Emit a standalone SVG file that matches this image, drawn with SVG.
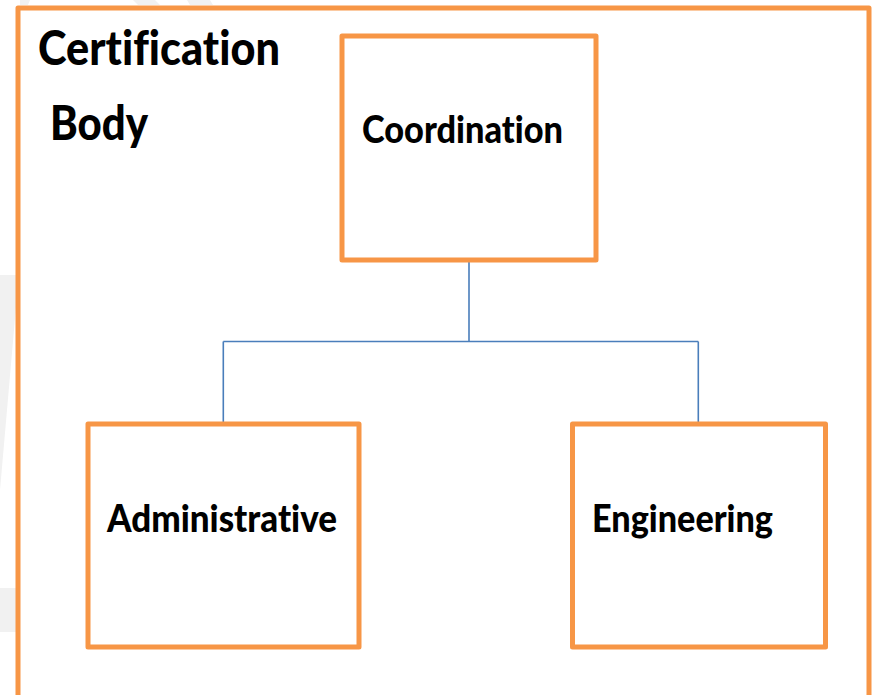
<svg xmlns="http://www.w3.org/2000/svg" width="872" height="695" viewBox="0 0 872 695">
<style>
.box{fill:#ffffff;stroke:#F79646;stroke-width:5;stroke-linejoin:round}
.frame{fill:none;stroke:#F79646;stroke-width:5;stroke-linejoin:round}
.lbl{font-family:"Lato","Open Sans","Liberation Sans",sans-serif;font-weight:900;fill:#000000;font-variant-ligatures:none;font-feature-settings:"liga" 0,"dlig" 0}
.big{font-size:48px}
.mid{font-size:38px}
.conn{fill:none;stroke:#4A7EBB;stroke-width:1.6}
.wm{fill:#f1f1f1}
</style>
<rect x="0" y="0" width="872" height="695" fill="#ffffff"/>
<g id="watermark">
<polygon class="wm" points="0,275 16,275 16,307 0,490"/>
<polygon class="wm" points="0,588 16,588 16,632 0,632"/>
<polygon class="wm" points="20,0 30,0 28,5 20,5"/>
<polygon class="wm" points="133,0 155,0 160,5 138,5"/>
<polygon class="wm" points="187,0 210,0 213,5 190,5"/>
</g>
<g id="certification-body">
<rect class="frame" x="18" y="8" width="851" height="700"/>
<text class="lbl big" x="38" y="65" textLength="242" lengthAdjust="spacingAndGlyphs">Certification</text>
<text class="lbl big" x="50" y="140" textLength="98" lengthAdjust="spacingAndGlyphs">Body</text>
</g>
<g id="connectors">
<path class="conn" d="M469,262 V341.5 M223.3,341.5 H698.3 M223.3,341.5 V422 M698.3,341.5 V422"/>
</g>
<g id="coordination">
<rect class="box" x="342" y="36" width="254" height="224"/>
<text class="lbl mid" x="362" y="143" textLength="201" lengthAdjust="spacingAndGlyphs">Coordination</text>
</g>
<g id="administrative">
<rect class="box" x="88" y="424" width="271" height="223"/>
<text class="lbl mid" x="107" y="532" textLength="230" lengthAdjust="spacingAndGlyphs">Administrative</text>
</g>
<g id="engineering">
<rect class="box" x="572.5" y="424" width="253" height="223"/>
<text class="lbl mid" x="592" y="532" textLength="181" lengthAdjust="spacingAndGlyphs">Engineering</text>
</g>
</svg>
